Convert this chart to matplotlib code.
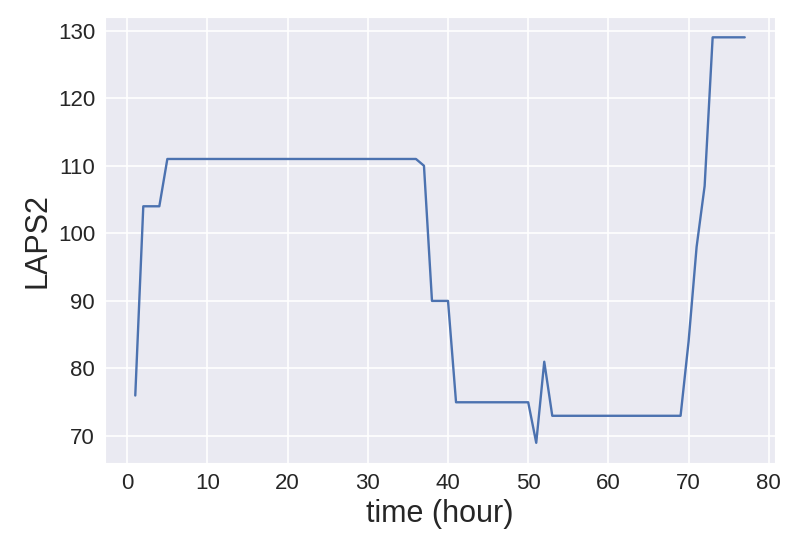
import matplotlib
matplotlib.use("Agg")
import matplotlib.pyplot as plt
import seaborn as sns

hours = list(range(1, 78))
laps2 = ([76] + [104] * 3 + [111] * 32 + [110] + [90] * 3 + [75] * 10 + [69, 81]
         + [73] * 17 + [84, 98, 107] + [129] * 5)

sns.set_style("darkgrid")
plt.rcParams['font.family'] = ['Liberation Sans', 'DejaVu Sans']
plt.rcParams['grid.linewidth'] = 1.2

fig = plt.figure(figsize=(8, 5.5), dpi=100)
ax = fig.add_axes([0.131, 0.158, 0.838, 0.811])
ax.plot(hours, laps2, color='#4C72B0', linewidth=1.7)
ax.set_xlabel('time (hour)', fontsize=22, color='#262626')
ax.set_ylabel('LAPS2', fontsize=22, color='#262626')
ax.tick_params(labelsize=16, colors='#262626')
ax.set_xticks(range(0, 81, 10))
ax.set_yticks(range(70, 131, 10))
fig.savefig('out.png', dpi=100)
